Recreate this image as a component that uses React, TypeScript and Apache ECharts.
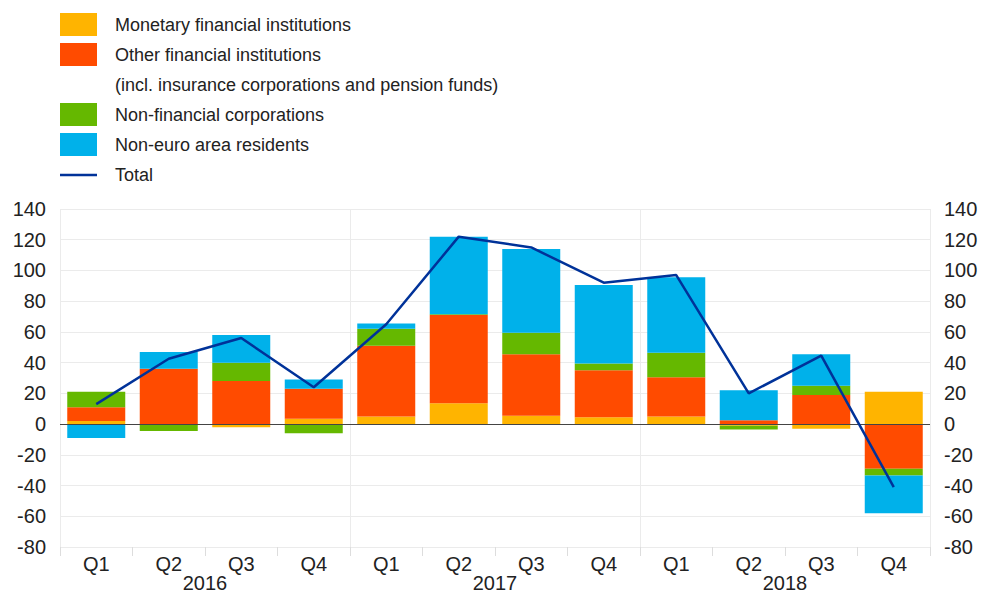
import React, { useEffect, useRef } from "react";
import * as echarts from "echarts";

const quarters = ["Q1", "Q2", "Q3", "Q4", "Q1", "Q2", "Q3", "Q4", "Q1", "Q2", "Q3", "Q4"];
const years = ["2016", "2017", "2018"];
const mfi = [2, 0, -2, 3.5, 5, 13.5, 5.5, 4.5, 5, -1, -3, 21];
const ofi = [9, 36, 28, 19.5, 46, 57.5, 40, 30.5, 25.5, 2.5, 19, -29];
const nfc = [10, -4.5, 12, -6, 11, 0.5, 14, 4.5, 16, -2.5, 6, -4.5];
const nonEuro = [-9, 11, 18, 6, 3.5, 50.5, 54.5, 51, 49, 19.5, 20.5, -24.5];
const total = [13, 42.5, 56, 24, 65, 122, 115, 92, 97, 20, 44.5, -41];

const names = [
  "Monetary financial institutions",
  "Other financial institutions",
  "Non-financial corporations",
  "Non-euro area residents",
  "Total",
];
const colors = ["#FFB400", "#FF4B00", "#65B800", "#00B1EA", "#003299"];

const FONT = "Liberation Sans, Arial, Helvetica, sans-serif";
const TEXT = "#222222";

export default function App() {
  const ref = useRef<HTMLDivElement>(null);
  useEffect(() => {
    if (!ref.current) return;
    const chart = echarts.init(ref.current, undefined, { renderer: "svg" });

    const legendRows = [
      { kind: "rect", color: colors[0], label: names[0], y: 24.5 },
      { kind: "rect", color: colors[1], label: names[1], y: 54.5 },
      { kind: "none", color: "", label: "(incl. insurance corporations and pension funds)", y: 84.5 },
      { kind: "rect", color: colors[2], label: names[2], y: 114.5 },
      { kind: "rect", color: colors[3], label: names[3], y: 144.5 },
      { kind: "line", color: colors[4], label: names[4], y: 175 },
    ];
    const graphic: any[] = [];
    legendRows.forEach((r) => {
      if (r.kind === "rect") {
        graphic.push({
          type: "rect",
          shape: { x: 60, y: r.y - 11.5, width: 37, height: 23 },
          style: { fill: r.color },
          silent: true,
        });
      } else if (r.kind === "line") {
        graphic.push({
          type: "line",
          shape: { x1: 60, y1: r.y, x2: 97, y2: r.y },
          style: { stroke: r.color, lineWidth: 2.5 },
          silent: true,
        });
      }
      graphic.push({
        type: "text",
        x: 115,
        y: r.y,
        style: {
          text: r.label,
          fontSize: 18,
          fontFamily: FONT,
          fill: TEXT,
          verticalAlign: "middle",
          align: "left",
        },
        silent: true,
      });
    });

    const yAxisBase = {
      type: "value",
      min: -80,
      max: 140,
      interval: 20,
      axisLine: { show: false },
      axisTick: { show: false },
      axisLabel: { fontSize: 20, fontFamily: FONT, color: TEXT, margin: 14 },
      splitLine: { show: true, lineStyle: { color: "#ebebeb", width: 1 } },
    };

    const barSeries = [mfi, ofi, nfc, nonEuro].map((d, i) => ({
      name: names[i],
      type: "bar",
      stack: "s",
      data: d,
      xAxisIndex: 0,
      yAxisIndex: 0,
      barCategoryGap: "20%",
      itemStyle: { color: colors[i] },
    }));

    chart.setOption({
      animation: false,
      backgroundColor: "#ffffff",
      textStyle: { fontFamily: FONT },
      grid: { left: 60, right: 51, top: 209, bottom: 46, containLabel: false },
      graphic,
      xAxis: [
        {
          type: "category",
          data: quarters,
          position: "bottom",
          boundaryGap: true,
          axisLine: { show: false, onZero: false },
          axisTick: { show: true, length: 9, interval: 0, lineStyle: { color: "#dddddd" } },
          axisLabel: { fontSize: 20, fontFamily: FONT, color: TEXT, margin: 7, interval: 0 },
          splitLine: { show: false },
        },
        {
          type: "category",
          data: years,
          position: "bottom",
          offset: 20,
          boundaryGap: true,
          axisLine: { show: false, onZero: false },
          axisTick: { show: false },
          axisLabel: { fontSize: 20, fontFamily: FONT, color: TEXT, margin: 6, interval: 0 },
          splitLine: { show: true, interval: 0, lineStyle: { color: "#ebebeb", width: 1 } },
        },
      ],
      yAxis: [
        { ...yAxisBase, position: "left" },
        { ...yAxisBase, position: "right", splitLine: { show: false } },
      ],
      series: [
        ...barSeries,
        {
          name: names[4],
          type: "line",
          data: total,
          xAxisIndex: 0,
          yAxisIndex: 0,
          symbol: "none",
          lineStyle: { color: colors[4], width: 2.5 },
          itemStyle: { color: colors[4] },
          z: 5,
          markLine: {
            silent: true,
            symbol: "none",
            label: { show: false },
            lineStyle: { color: "#444444", width: 1, type: "solid" },
            data: [{ yAxis: 0 }],
            z: 4,
          },
        },
      ],
    });
    return () => chart.dispose();
  }, []);
  return (
    <div
      ref={ref}
      style={{ position: "fixed", left: 0, top: 0, width: 981, height: 593, background: "#fff" }}
    />
  );
}
